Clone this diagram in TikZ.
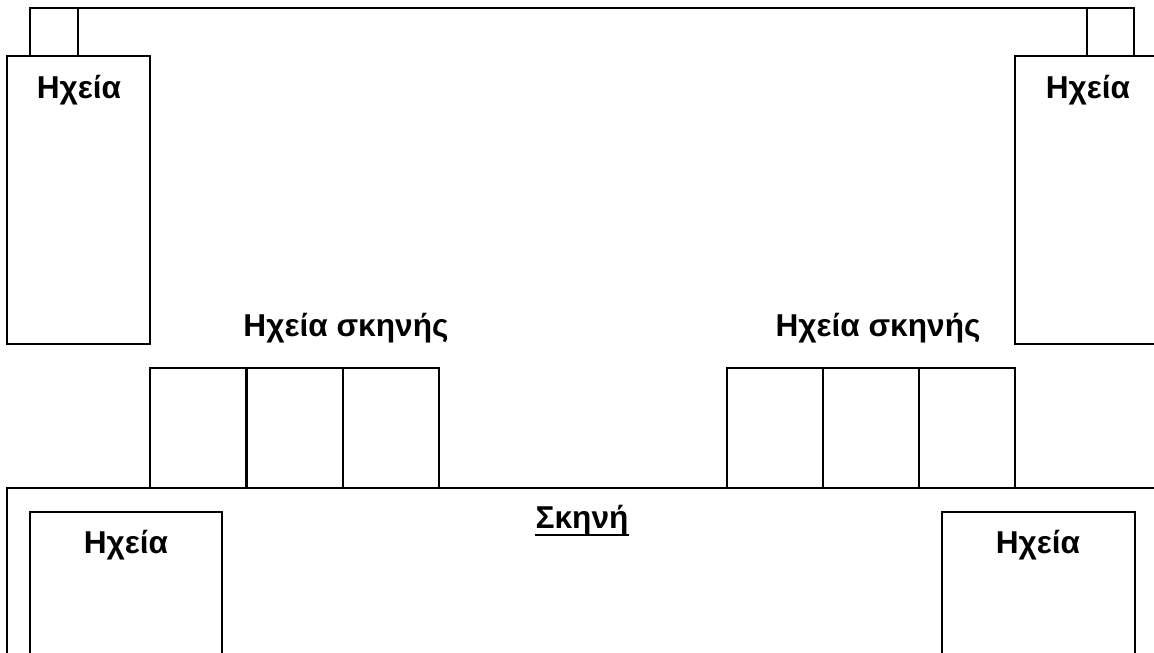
\documentclass[tikz,border=0pt]{standalone}
\usepackage{fontspec}
\setmainfont{Liberation Sans}
\tikzset{
	wall/.style={line width=1.1pt},
	txt/.style={font=\fontsize{18}{21}\selectfont\bfseries, anchor=base, inner sep=0pt}
}
\begin{document}
\begin{tikzpicture}[x=0.02cm, y=-0.02cm]
	\useasboundingbox (0, 0) rectangle (1154, 653);
	\clip (0, 0) rectangle (1154, 653);
	% top rigging
	\draw[wall] (30, 8) rectangle (78, 56);
	\draw[wall] (1087, 8) rectangle (1134, 56);
	\draw[wall] (78, 8) -- (1087, 8);
	% side speakers
	\draw[wall] (7, 56) rectangle (150, 344);
	\draw[wall] (1015, 56) rectangle (1170, 344);
	\node[txt] (hl) at (79, 98) {Ηχεία};
	\node[txt] (hr) at (1088, 98) {Ηχεία};
	% stage speakers
	\foreach \x in {150, 247, 343} {
		\draw[wall] (\x, 368) rectangle (\x + 96, 488);
	}
	\foreach \x in {727, 823, 919} {
		\draw[wall] (\x, 368) rectangle (\x + 96, 488);
	}
	\node[txt] (sl) at (346, 336) {Ηχεία σκηνής};
	\node[txt] (sr) at (878, 336) {Ηχεία σκηνής};
	% stage
	\draw[wall] (7, 488) rectangle (1170, 670);
	\node[txt] (sk) at (582, 528) {Σκηνή};
	\draw[line width=1.7pt] ([yshift=-0.14cm]sk.base west) -- ([yshift=-0.14cm]sk.base east);
	\draw[wall] (30, 512) rectangle (222, 670);
	\draw[wall] (942, 512) rectangle (1135, 670);
	\node[txt] (bl) at (126, 553) {Ηχεία};
	\node[txt] (br) at (1038, 553) {Ηχεία};
\end{tikzpicture}
\end{document}
